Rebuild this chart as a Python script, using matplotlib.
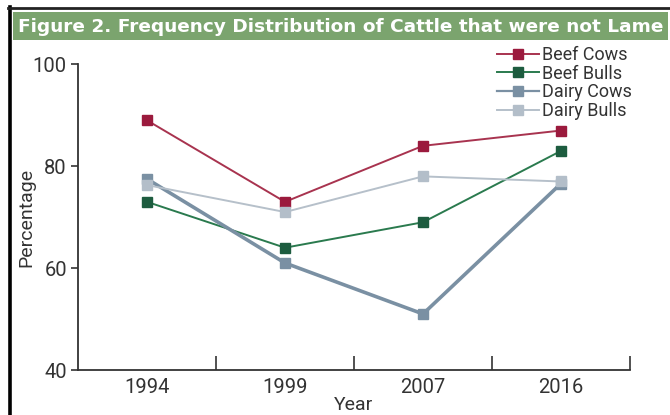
import matplotlib.pyplot as plt
from matplotlib.patches import Rectangle
from matplotlib.lines import Line2D

# Chart data.
years = ['1994', '1999', '2007', '2016']
beef_cows = [89, 73, 84, 87]
beef_bulls = [73, 64, 69, 83]
dairy_cows = [77.5, 61, 51, 76.6]
dairy_bulls = [76.3, 71, 78, 77]

series = [
    ('Beef Cows', beef_cows, '#a8334f', '#9b1a3d', 1.4),
    ('Beef Bulls', beef_bulls, '#2a7a4e', '#1d5c3f', 1.4),
    ('Dairy Cows', dairy_cows, '#7a90a3', '#7a90a3', 2.6),
    ('Dairy Bulls', dairy_bulls, '#b6c0ca', '#b3bec9', 1.4),
]

plt.rcParams['font.family'] = ['Roboto', 'DejaVu Sans']

fig = plt.figure(figsize=(6.70, 4.15), dpi=100)
W, H = 670, 415

# Outer frame and green title bar.
fig.add_artist(Line2D([9.5 / W, 9.5 / W], [0, 1 - 7 / H], color='black', lw=2.6))
fig.add_artist(Line2D([8 / W, 1], [1 - 8 / H, 1 - 8 / H], color='#222222', lw=2.0))
fig.add_artist(Rectangle((13 / W, 1 - 40 / H), 655 / W, 28 / H,
                         facecolor='#7ba46e', edgecolor='none'))
fig.text(18 / W, 1 - 26.5 / H, 'Figure 2. Frequency Distribution of Cattle that were not Lame',
         color='white', fontsize=13.3, fontweight='bold', ha='left', va='center',
         family=['DejaVu Sans'])

ax = fig.add_axes([78 / W, 1 - 370 / H, 552 / W, 305.7 / H])
x = list(range(len(years)))
for name, vals, lc, mc, lw in series:
    ax.plot(x, vals, color=lc, lw=lw, marker='s', markersize=7.5,
            markerfacecolor=mc, markeredgecolor=mc, label=name)

ax.set_ylim(40, 100)
ax.set_xlim(-0.5, len(years) - 0.5)
ax.set_yticks([40, 60, 80, 100])
ax.set_xticks([i + 0.5 for i in x])
ax.set_xticklabels([])
ax.set_xticks(x, minor=True)
ax.set_xticklabels(years, minor=True)
ax.tick_params(axis='x', which='major', direction='in', length=10, width=1.2, color='#333333')
ax.tick_params(axis='x', which='minor', length=0, pad=6, labelsize=14.5, labelcolor='#333333')
ax.tick_params(axis='y', direction='out', length=5, width=1.2, color='#333333',
               labelsize=14.5, labelcolor='#333333', pad=3)

for side in ['top', 'right']:
    ax.spines[side].set_visible(False)
for side in ['left', 'bottom']:
    ax.spines[side].set_color('#333333')
    ax.spines[side].set_linewidth(1.3)

ax.set_xlabel('Year', fontsize=14, color='#333333', labelpad=-1)
ax.set_ylabel('Percentage', fontsize=14, color='#333333', labelpad=-2)

leg = ax.legend(loc='upper left', bbox_to_anchor=(497 / W, 1 - 46 / H),
                bbox_transform=fig.transFigure, frameon=False, fontsize=13,
                handlelength=2.3, handletextpad=0.2, labelspacing=0.04,
                borderpad=0, borderaxespad=0)
for t in leg.get_texts():
    t.set_color('#333333')
leg.get_lines()[2].set_linewidth(1.6)

fig.savefig('out.png', dpi=100)
